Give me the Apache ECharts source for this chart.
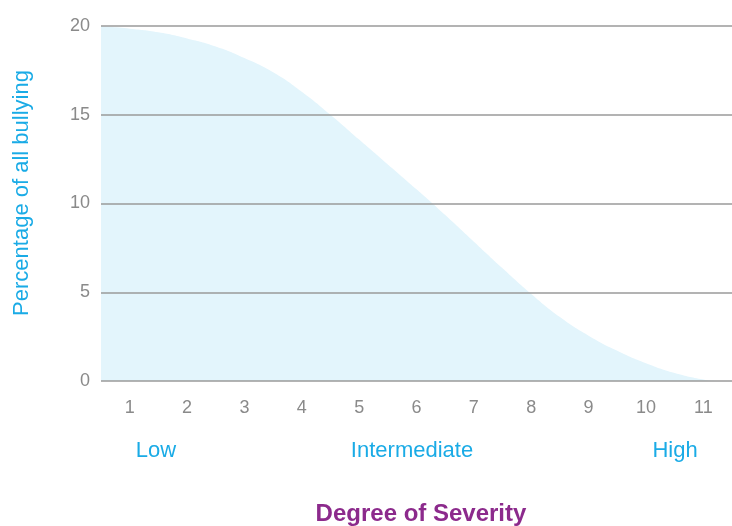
<!DOCTYPE html>
<html>
<head>
<meta charset="utf-8">
<script src="https://cdn.jsdelivr.net/npm/echarts@6/dist/echarts.min.js"></script>
<style>
  html, body { margin: 0; padding: 0; background: #fff; }
  #chart { width: 732px; height: 526px; }
</style>
</head>
<body>
<div id="chart"></div>
<script>
// severity categories on the axis
const categories = ["1", "2", "3", "4", "5", "6", "7", "8", "9", "10", "11"];
const yTicks = [0, 5, 10, 15, 20];

// curve every half step: [position on severity scale, percentage]
const curveX = [0.5, 1, 1.5, 2, 2.5, 3, 3.5, 4, 4.5, 5, 5.5, 6, 6.5, 7, 7.5, 8, 8.5, 9, 9.5, 10, 10.5, 11, 11.2];
const curveY = [20, 19.85, 19.65, 19.3, 18.85, 18.2, 17.4, 16.3, 15.0, 13.6, 12.2, 10.8, 9.35, 7.85, 6.35, 4.9, 3.6, 2.55, 1.7, 1.0, 0.45, 0.08, 0];

const severityBands = [
  { text: "Low", x: 156 },
  { text: "Intermediate", x: 412 },
  { text: "High", x: 675 }
];

const chart = echarts.init(document.getElementById("chart"));
const font = "Liberation Sans, Arial, Helvetica, sans-serif";
const blue = "#1aabe6";

chart.setOption({
  backgroundColor: "#fff",
  animation: false,
  grid: { left: 101, right: 0, top: 26, bottom: 145 },
  xAxis: [
    {
      type: "category",
      data: categories,
      boundaryGap: true,
      axisLine: { show: false },
      axisTick: { show: false },
      axisLabel: { color: "#8a8a8a", fontSize: 18, fontFamily: font, margin: 18 }
    },
    {
      type: "value",
      min: 0.5,
      max: 11.5,
      show: false
    }
  ],
  yAxis: {
    type: "value",
    min: yTicks[0],
    max: yTicks[yTicks.length - 1],
    interval: 5,
    z: 5,
    axisLine: { show: false },
    axisTick: { show: false },
    axisLabel: { color: "#8a8a8a", fontSize: 18, fontFamily: font, margin: 11 },
    splitLine: { lineStyle: { color: "#9a9a9a", width: 1.5 } }
  },
  series: [
    {
      type: "line",
      xAxisIndex: 1,
      data: curveX.map((x, i) => [x, curveY[i]]),
      smooth: 0.5,
      symbol: "none",
      lineStyle: { width: 0 },
      areaStyle: { color: "#e3f5fc", opacity: 1 },
      z: 1
    }
  ],
  graphic: [
    ...severityBands.map(b => ({
      type: "text",
      x: b.x,
      y: 451,
      style: { text: b.text, fill: blue, font: "22px " + font, align: "center", verticalAlign: "middle" }
    })),
    {
      type: "text",
      x: 22,
      y: 193,
      rotation: Math.PI / 2,
      style: {
        text: "Percentage of all bullying",
        fill: blue,
        font: "22px " + font,
        align: "center",
        verticalAlign: "middle"
      }
    },
    {
      type: "text",
      x: 421,
      y: 514,
      style: {
        text: "Degree of Severity",
        fill: "#8c2a8c",
        font: "bold 24px " + font,
        align: "center",
        verticalAlign: "middle"
      }
    }
  ]
});

window.addEventListener("resize", () => chart.resize());
</script>
</body>
</html>
